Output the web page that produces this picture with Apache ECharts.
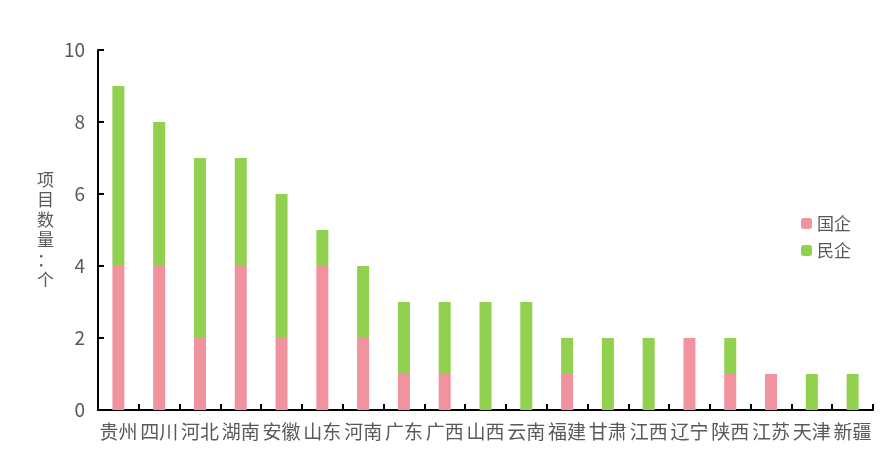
<!DOCTYPE html>
<html><head><meta charset="utf-8">
<script src="https://cdn.jsdelivr.net/npm/echarts@6/dist/echarts.min.js"></script>
<style>html,body{margin:0;padding:0;background:#fff}#c{width:889px;height:459px}</style>
</head><body><div id="c"></div>
<script>
const categories = ['贵州','四川','河北','湖南','安徽','山东','河南','广东','广西','山西','云南','福建','甘肃','江西','辽宁','陕西','江苏','天津','新疆'];
const stateOwned = [4,4,2,4,2,4,2,1,1,0,0,1,0,0,2,1,1,0,0];
const privateOwned = [5,4,5,3,4,1,2,2,2,3,3,1,2,2,0,1,0,1,1];
const yTicks = [0,2,4,6,8,10];
const font = '"Noto Sans CJK SC", "Noto Sans", sans-serif';
const chart = echarts.init(document.getElementById('c'));
chart.setOption({
  animation:false,
  textStyle:{fontFamily:font},
  grid:{left:98,right:16,top:50,bottom:49},
  legend:{orient:'vertical',left:796,top:210,itemWidth:11,itemHeight:11,itemGap:10,
    textStyle:{fontSize:17,color:'#595959',fontFamily:font},data:['国企','民企']},
  xAxis:{type:'category',data:categories,boundaryGap:true,
    axisLine:{lineStyle:{color:'#000',width:2}},
    axisTick:{show:true,inside:true,length:6,lineStyle:{color:'#000',width:2}},
    axisLabel:{fontSize:19,color:'#595959',margin:12,interval:0,fontFamily:font}},
  yAxis:{type:'value',min:yTicks[0],max:yTicks[yTicks.length-1],interval:2,
    name:'项\n目\n数\n量\n：\n个',nameLocation:'middle',nameRotate:0,nameGap:44,
    nameTextStyle:{fontSize:17,color:'#595959',lineHeight:20,fontFamily:font},
    splitLine:{show:false},
    axisLine:{show:true,lineStyle:{color:'#000',width:2}},
    axisTick:{show:true,inside:true,length:6,lineStyle:{color:'#000',width:2}},
    axisLabel:{fontSize:19,color:'#595959',margin:13,fontFamily:font}},
  series:[
    {name:'国企',type:'bar',stack:'a',barWidth:12,data:stateOwned,itemStyle:{color:'#F0939F'}},
    {name:'民企',type:'bar',stack:'a',barWidth:12,data:privateOwned,itemStyle:{color:'#92D050'}}
  ]
});
</script></body></html>
